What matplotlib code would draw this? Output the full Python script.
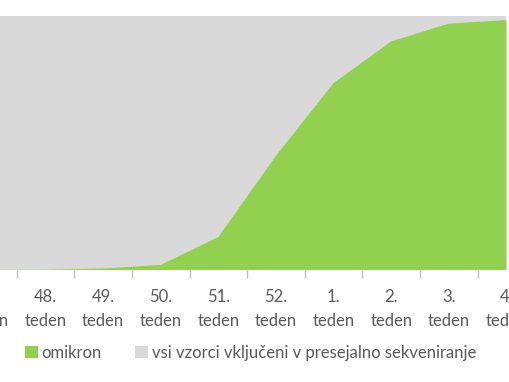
import matplotlib
matplotlib.use("Agg")
import matplotlib.pyplot as plt
from matplotlib.patches import Patch

weeks = ["47.", "48.", "49.", "50.", "51.", "52.", "1.", "2.", "3.", "4."]
omikron = [0.0, 0.1, 0.6, 2.0, 13.0, 45.0, 73.6, 90.0, 97.0, 98.4]
vsi_vzorci = [100, 100, 100, 100, 100, 100, 100, 100, 100, 100]
series_names = ["omikron", "vsi vzorci vključeni v presejalno sekveniranje"]

GREEN = "#92D050"
GRAY = "#D9D9D9"
TEXT = "#595959"

plt.rcParams['font.family'] = ['Lato', 'DejaVu Sans']

W, H = 510, 382
fig = plt.figure(figsize=(W / 100, H / 100), dpi=100)
top_px, bot_px = 16, 270
ax = fig.add_axes([0, 1 - bot_px / H, 1, (bot_px - top_px) / H])

x = list(range(len(weeks)))
ax.fill_between(x, 0, vsi_vzorci, color=GRAY, linewidth=0)
ax.fill_between(x, 0, omikron, color=GREEN, linewidth=0)

for s in ax.spines.values():
    s.set_visible(False)
ax.set_yticks([])
labels = [w + "\nteden" for w in weeks]
ax.set_xticks(x)
ax.set_xticklabels(labels, fontsize=12, color=TEXT, linespacing=1.55)
ax.tick_params(axis='x', which='major', length=0, pad=14)
ax.set_xticks([i + 0.5 for i in range(-1, len(weeks))], minor=True)
ax.tick_params(axis='x', which='minor', length=6, color="#BFBFBF", width=1)
ax.set_xlim(12 / 57.6, len(weeks) - 1 + 3.5 / 57.6)
ax.set_ylim(0, 100)

# first category label lies left of the visible range (partly cut, as in the reference)
ax.annotate(labels[0], xy=(x[0], 0), xycoords=('data', 'axes fraction'),
            xytext=(0, -14), textcoords='offset points', ha='center', va='top',
            fontsize=12, color=TEXT, linespacing=1.55, annotation_clip=False)

handles = [Patch(facecolor=GREEN, edgecolor='none'), Patch(facecolor=GRAY, edgecolor='none')]
fig.legend(handles, series_names, loc='center left', bbox_to_anchor=(25 / W, 1 - 353 / H),
           ncol=2, frameon=False, fontsize=12, labelcolor=TEXT,
           handlelength=0.75, handleheight=0.75, handletextpad=0.25,
           columnspacing=2.0, borderaxespad=0, borderpad=0)

fig.savefig("out.png", dpi=100)
